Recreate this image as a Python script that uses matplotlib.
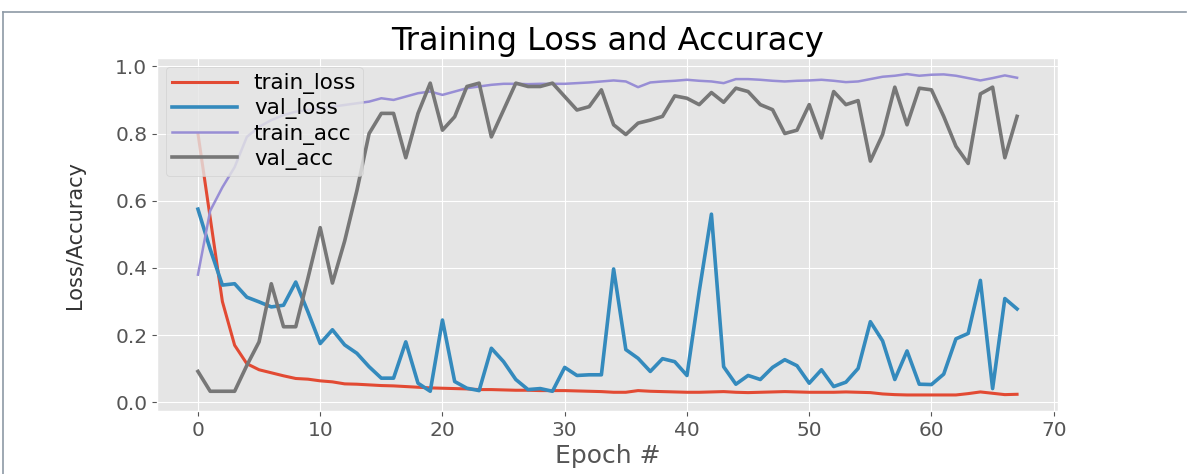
import numpy as np
import matplotlib
matplotlib.use("Agg")
import matplotlib.pyplot as plt
from matplotlib.lines import Line2D

plt.style.use("ggplot")

# values, one per epoch (0..67)
train_loss = [0.80, 0.55, 0.30, 0.17, 0.115, 0.097, 0.088, 0.079, 0.071, 0.069,
              0.064, 0.061, 0.055, 0.054, 0.052, 0.050, 0.049, 0.047, 0.045, 0.043,
              0.042, 0.041, 0.040, 0.038, 0.038, 0.037, 0.036, 0.036, 0.035, 0.035,
              0.035, 0.034, 0.033, 0.032, 0.030, 0.030, 0.035, 0.033, 0.032, 0.031,
              0.030, 0.030, 0.031, 0.032, 0.030, 0.029, 0.030, 0.031, 0.032, 0.031,
              0.030, 0.030, 0.030, 0.031, 0.030, 0.029, 0.025, 0.023, 0.022, 0.022,
              0.022, 0.022, 0.022, 0.026, 0.031, 0.027, 0.023, 0.024]
val_loss = [0.575, 0.456, 0.349, 0.353, 0.313, 0.299, 0.284, 0.289, 0.358, 0.269,
            0.175, 0.216, 0.171, 0.146, 0.106, 0.072, 0.072, 0.180, 0.057, 0.033,
            0.245, 0.062, 0.042, 0.035, 0.161, 0.121, 0.068, 0.038, 0.041, 0.033,
            0.104, 0.080, 0.082, 0.082, 0.397, 0.157, 0.131, 0.092, 0.130, 0.121,
            0.080, 0.330, 0.560, 0.106, 0.054, 0.080, 0.068, 0.104, 0.127, 0.109,
            0.057, 0.097, 0.047, 0.060, 0.101, 0.240, 0.183, 0.068, 0.153, 0.054,
            0.053, 0.084, 0.189, 0.205, 0.363, 0.041, 0.309, 0.278]
train_acc = [0.38, 0.57, 0.64, 0.70, 0.79, 0.82, 0.84, 0.855, 0.865, 0.87,
             0.875, 0.88, 0.885, 0.89, 0.895, 0.905, 0.90, 0.91, 0.92, 0.925,
             0.915, 0.925, 0.935, 0.94, 0.945, 0.948, 0.948, 0.947, 0.948, 0.948,
             0.948, 0.950, 0.952, 0.955, 0.958, 0.955, 0.938, 0.952, 0.955, 0.957,
             0.960, 0.957, 0.955, 0.950, 0.962, 0.962, 0.960, 0.957, 0.955, 0.957,
             0.958, 0.960, 0.957, 0.953, 0.955, 0.962, 0.969, 0.972, 0.977, 0.972,
             0.975, 0.976, 0.972, 0.965, 0.958, 0.965, 0.973, 0.966]
val_acc = [0.092, 0.033, 0.033, 0.033, 0.11, 0.18, 0.353, 0.225, 0.225, 0.37,
           0.52, 0.355, 0.48, 0.63, 0.80, 0.86, 0.86, 0.728, 0.86, 0.95,
           0.81, 0.85, 0.94, 0.95, 0.79, 0.87, 0.95, 0.94, 0.94, 0.95,
           0.91, 0.87, 0.88, 0.93, 0.826, 0.797, 0.831, 0.84, 0.851, 0.912,
           0.905, 0.886, 0.922, 0.893, 0.935, 0.925, 0.886, 0.871, 0.80, 0.81,
           0.886, 0.787, 0.925, 0.886, 0.898, 0.718, 0.797, 0.938, 0.826, 0.935,
           0.93, 0.851, 0.762, 0.711, 0.918, 0.938, 0.728, 0.851]

N = np.arange(0, len(train_loss))

fig = plt.figure(figsize=(11.92, 4.74), dpi=100)
fig.patch.set_facecolor("white")
ax = fig.add_axes([0.1317, 0.1329, 0.7559, 0.7447])

ax.plot(N, train_loss, label="train_loss", lw=2.2)
ax.plot(N, val_loss, label="val_loss", lw=2.6)
ax.plot(N, train_acc, label="train_acc", lw=1.8)
ax.plot(N, val_acc, label="val_acc", lw=2.6)

ax.set_title("Training Loss and Accuracy", fontsize=23, pad=6)
ax.set_xlabel("Epoch #", fontsize=18, labelpad=3)
ax.set_ylabel("Loss/Accuracy", fontsize=15, labelpad=22, color="#333333")
ax.tick_params(labelsize=14.5)
ax.set_xticks(np.arange(0, 80, 10))
ax.legend(loc="upper left", fontsize=15.5, handlelength=3.0,
          borderaxespad=0.4, labelspacing=0.2, borderpad=0.3)

# thin frame of the screenshot
fig.add_artist(Line2D([0.0025, 0.995], [0.975, 0.975], color="#8d99a6", lw=1.2))
fig.add_artist(Line2D([0.0025, 0.0025], [0.0, 0.975], color="#8d99a6", lw=1.2))

plt.savefig("out.png", dpi=100)
